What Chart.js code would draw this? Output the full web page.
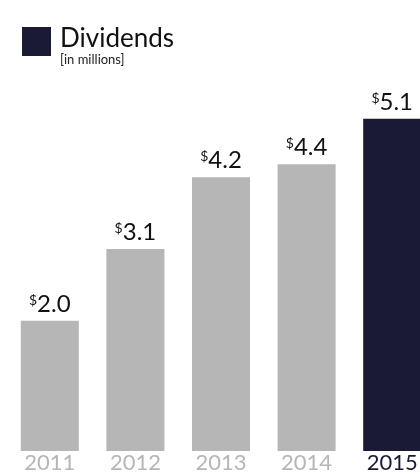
<!DOCTYPE html>
<html>
<head>
<meta charset="utf-8">
<script src="https://cdn.jsdelivr.net/npm/chart.js@4/dist/chart.umd.min.js"></script>
<style>
  html, body { margin: 0; padding: 0; background: #fff; overflow: hidden; width: 420px; height: 475px; }
  #wrap { position: absolute; left: 0; top: 0; width: 435px; height: 475px; }
  .key { position: absolute; left: 22px; top: 27px; width: 29px; height: 29px; background: #1b1a35; }
  .title { position: absolute; left: 60px; top: 24px; font: 26px/26px Lato, sans-serif; color: #111; white-space: nowrap; }
  .sub { position: absolute; left: 60px; top: 53px; font: 13px/13px Lato, sans-serif; color: #222; white-space: nowrap; }
</style>
</head>
<body>
<div id="wrap"><canvas id="divChart" width="435" height="475"></canvas></div>
<div class="key"></div>
<div class="title">Dividends</div>
<div class="sub">[in millions]</div>
<script>
const years = ["2011", "2012", "2013", "2014", "2015"];
const dividends = [2.0, 3.1, 4.2, 4.4, 5.1];

const gray = "#b5b6b5";
const navy = "#1b1a35";
const barColors = years.map((y, i) => i === years.length - 1 ? navy : gray);
const tickColors = years.map((y, i) => i === years.length - 1 ? navy : "#b5b6b5");

// value labels with a small raised dollar sign
const valueLabels = {
  id: "valueLabels",
  afterDatasetsDraw(chart) {
    const c = chart.ctx;
    const meta = chart.getDatasetMeta(0);
    c.save();
    c.fillStyle = "#111";
    c.textBaseline = "alphabetic";
    c.textAlign = "left";
    meta.data.forEach((bar, i) => {
      const val = dividends[i].toFixed(1);
      c.font = "14px Lato, sans-serif";
      const wd = c.measureText("$").width;
      c.font = "24px Lato, sans-serif";
      const wv = c.measureText(val).width;
      const x0 = bar.x - (wd + wv) / 2;
      const base = bar.y - 9;
      c.font = "14px Lato, sans-serif";
      c.fillText("$", x0, base - 7);
      c.font = "24px Lato, sans-serif";
      c.fillText(val, x0 + wd, base);
    });
    c.restore();
  }
};

new Chart(document.getElementById("divChart"), {
  type: "bar",
  data: {
    labels: years,
    datasets: [{
      data: dividends,
      backgroundColor: barColors,
      borderWidth: 0,
      categoryPercentage: 1,
      barPercentage: 0.678
    }]
  },
  options: {
    responsive: false,
    animation: false,
    layout: { padding: { left: 7, top: 27.5, right: 0, bottom: 0 } },
    plugins: { legend: { display: false }, tooltip: { enabled: false } },
    scales: {
      x: {
        grid: { display: false, drawTicks: false },
        border: { display: false },
        ticks: {
          padding: 1,
          color: ctx => tickColors[ctx.index],
          font: { family: "Lato, sans-serif", size: 22, lineHeight: 1 }
        }
      },
      y: { display: false, min: 0, max: 6.5 }
    }
  },
  plugins: [valueLabels]
});
</script>
</body>
</html>
